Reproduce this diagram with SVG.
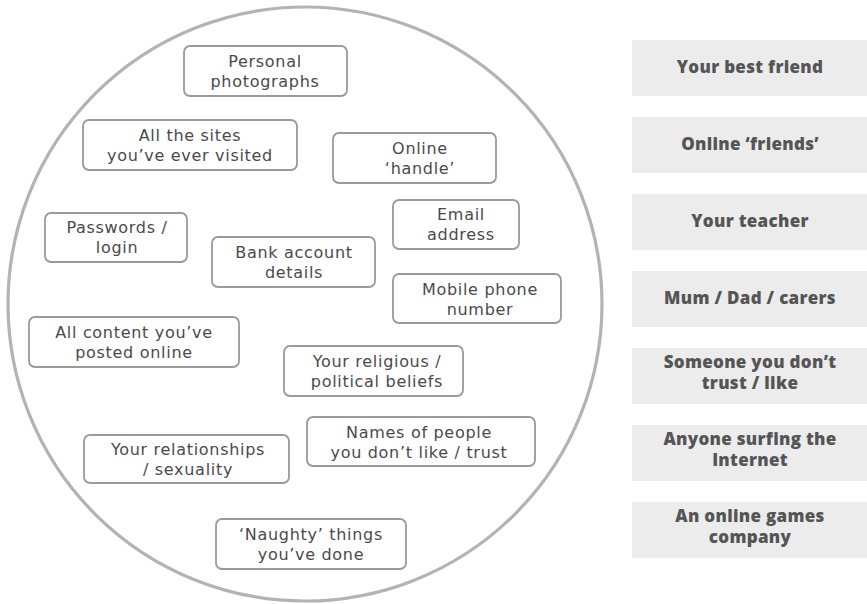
<svg xmlns="http://www.w3.org/2000/svg" width="867" height="604" viewBox="0 0 867 604">
<style>
.ring{fill:none;stroke:#b3b3b3;stroke-width:3.2}
.item rect{fill:#fff;stroke:#9a9a9a;stroke-width:1.8}
.item text{font-family:"DejaVu Sans","Open Sans",sans-serif;font-size:16px;font-weight:400;letter-spacing:0.7px;fill:#4a4a4a;text-anchor:middle}
.who rect{fill:#ececec}
.who text{font-family:"Open Sans","Liberation Sans",sans-serif;font-size:17px;font-weight:800;letter-spacing:0.3px;fill:#555;text-anchor:middle}
</style>
<rect width="867" height="604" fill="#fff"/>
<circle class="ring" cx="305" cy="304" r="297"/>

<g id="personal-photographs" class="item"><rect x="184" y="46" width="163" height="50" rx="6"/><text x="265" y="67">Personal</text><text x="265" y="87">photographs</text></g>
<g id="sites-visited" class="item"><rect x="83" y="120" width="214" height="50" rx="6"/><text x="190" y="141">All the sites</text><text x="190" y="161">you’ve ever visited</text></g>
<g id="online-handle" class="item"><rect x="333" y="133" width="163" height="50" rx="6"/><text x="420" y="154">Online</text><text x="420" y="174">‘handle’</text></g>
<g id="email-address" class="item"><rect x="393" y="200" width="126" height="49" rx="6"/><text x="461" y="220">Email</text><text x="461" y="240">address</text></g>
<g id="passwords" class="item"><rect x="45" y="213" width="142" height="49" rx="6"/><text x="117" y="233">Passwords /</text><text x="117" y="253">login</text></g>
<g id="bank-account" class="item"><rect x="212" y="237" width="163" height="50" rx="6"/><text x="294" y="258">Bank account</text><text x="294" y="278">details</text></g>
<g id="mobile-phone" class="item"><rect x="393" y="274" width="168" height="49" rx="6"/><text x="480" y="295">Mobile phone</text><text x="480" y="315">number</text></g>
<g id="content-posted" class="item"><rect x="29" y="317" width="210" height="50" rx="6"/><text x="134" y="338">All content you’ve</text><text x="134" y="358">posted online</text></g>
<g id="religious-beliefs" class="item"><rect x="284" y="346" width="179" height="50" rx="6"/><text x="377" y="367">Your religious /</text><text x="377" y="387">political beliefs</text></g>
<g id="names-people" class="item"><rect x="307" y="417" width="228" height="49" rx="6"/><text x="419" y="438">Names of people</text><text x="419" y="458">you don’t like / trust</text></g>
<g id="relationships" class="item"><rect x="84" y="435" width="205" height="48" rx="6"/><text x="188" y="455">Your relationships</text><text x="188" y="475">/ sexuality</text></g>
<g id="naughty-things" class="item"><rect x="216" y="519" width="190" height="50" rx="6"/><text x="311" y="540">‘Naughty’ things</text><text x="311" y="560">you’ve done</text></g>

<g id="best-friend" class="who"><rect x="632" y="40" width="235" height="56"/><text x="750" y="73">Your best friend</text></g>
<g id="online-friends" class="who"><rect x="632" y="117" width="235" height="56"/><text x="750" y="150">Online ‘friends’</text></g>
<g id="teacher" class="who"><rect x="632" y="194" width="235" height="56"/><text x="750" y="227">Your teacher</text></g>
<g id="parents" class="who"><rect x="632" y="271" width="235" height="56"/><text x="750" y="304">Mum / Dad / carers</text></g>
<g id="untrusted" class="who"><rect x="632" y="348" width="235" height="56"/><text x="750" y="368">Someone you don’t</text><text x="750" y="389">trust / like</text></g>
<g id="internet" class="who"><rect x="632" y="425" width="235" height="56"/><text x="750" y="445">Anyone surfing the</text><text x="750" y="466">Internet</text></g>
<g id="games-company" class="who"><rect x="632" y="502" width="235" height="56"/><text x="750" y="522">An online games</text><text x="750" y="543">company</text></g>
</svg>
